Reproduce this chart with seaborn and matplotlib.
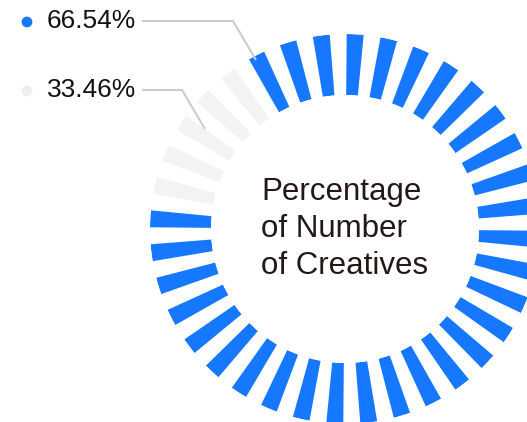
import numpy as np
import pandas as pd
import matplotlib
matplotlib.use("Agg")
import matplotlib.pyplot as plt
import seaborn as sns

# ---- data ----
labels = ["66.54%", "33.46%"]
shares = [66.54, 33.46]
segments = ["blue", "gray"]
tick_counts = [31, 5]          # number of radial ticks drawn for each segment
seg_colors = ["#1677ff", "#f2f3f3"]
center_title = "Percentage\nof Number\nof Creatives"

sns.set_theme(style="white")
plt.rcParams["font.family"] = ["Liberation Sans", "DejaVu Sans"]

W, H, DPI = 527, 422, 100
fig = plt.figure(figsize=(W / DPI, H / DPI), dpi=DPI)
fig.patch.set_facecolor("white")

# ring geometry (pixels)
cx, cy = 345, 229
r_in, r_out = 134, 195
tick_len = r_out - r_in

# ticks: 36 positions, 10 deg apart; blue starts at 333 deg (clockwise from top)
n_total = sum(tick_counts)
step = 360 / n_total
start_blue = 333
rows = []
for seg, cnt, start in zip(segments, tick_counts,
                           [start_blue, start_blue + tick_counts[0] * step]):
    for k in range(cnt):
        ang = (start + k * step) % 360
        rows.append({"theta": np.deg2rad(ang), "length": tick_len, "segment": seg})
df = pd.DataFrame(rows)

ax = fig.add_axes([(cx - r_out) / W, (H - cy - r_out) / H,
                   2 * r_out / W, 2 * r_out / H], projection="polar")
ax.set_theta_zero_location("N")
ax.set_theta_direction(-1)
sns.barplot(data=df, x="theta", y="length", hue="segment",
            hue_order=segments, palette=seg_colors, native_scale=True,
            width=0.5, dodge=False, legend=False, ax=ax, linewidth=0,
            saturation=1)
ax.set_xlim(0, 2 * np.pi)
ax.set_ylim(0, tick_len)
ax.set_rorigin(-r_in)
ax.set_axis_off()

# overlay in pixel coordinates for legend, leader lines, centre text
ov = fig.add_axes([0, 0, 1, 1], zorder=5)
ov.set_xlim(0, W)
ov.set_ylim(H, 0)
ov.set_axis_off()
ov.patch.set_alpha(0)

legend_y = [21, 90]
dot_colors = ["#1677ff", "#eeeeee"]
for lab, col, y in zip(labels, dot_colors, legend_y):
    ov.scatter([27], [y + 1], s=60, color=col, edgecolors="none")
    ov.text(47, y, lab, fontsize=19, color="#111111", va="center", ha="left")

ov.plot([142, 233, 256], [21, 21, 60], color="#cccccc", lw=1.5,
        solid_capstyle="butt")
ov.plot([142, 182, 205], [90, 90, 129], color="#cccccc", lw=1.5,
        solid_capstyle="butt")

ov.text(261, 229, center_title, fontsize=22.5, color="#231815",
        ha="left", va="center", linespacing=1.32)

fig.savefig("out.png", dpi=DPI)
